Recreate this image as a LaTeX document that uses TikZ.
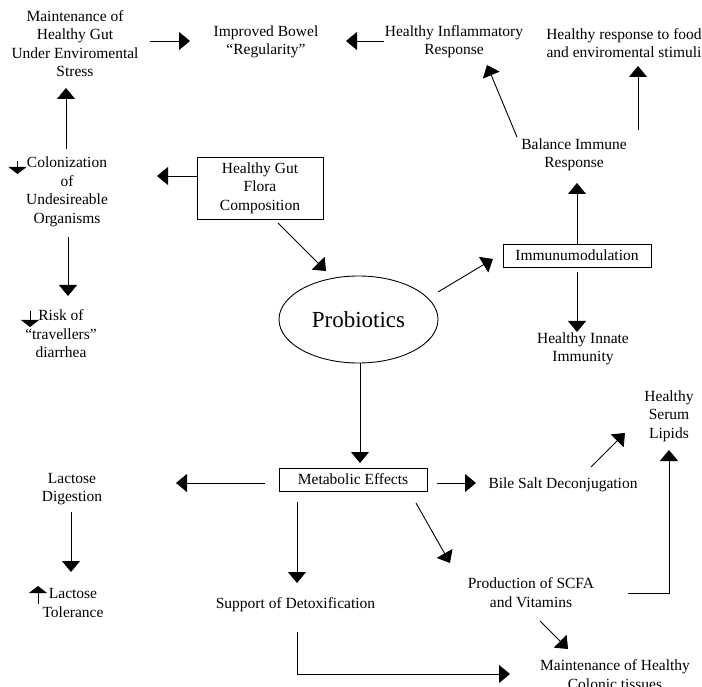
\documentclass[tikz,border=0pt]{standalone}
\usepackage{fontspec}
\setmainfont{Liberation Serif}
\usetikzlibrary{arrows.meta,shapes.geometric}
\begin{document}
\begin{tikzpicture}[x=1pt,y=-1pt,
  txt/.style={align=center,inner sep=0pt,font=\fontsize{15.5}{18.5}\selectfont},
  boxnode/.style={txt,draw,line width=0.9pt,inner sep=0pt},
  arr/.style={line width=0.9pt,-{Triangle[length=11pt,width=18pt]}},
  smallarr/.style={line width=0.8pt,-{Triangle[length=7pt,width=18pt]}}]
\clip (0,0) rectangle (702,687);
\fill[white] (0,0) rectangle (702,687);
% nodes
\node[txt] (maint) at (75,43.5) {Maintenance of\\Healthy Gut\\Under Enviromental\\Stress};
\node[txt] (bowel) at (266,42) {Improved Bowel\\“Regularity”};
\node[txt] (inflam) at (454,41.5) {Healthy Inflammatory\\Response};
\node[txt] (food) at (624,43) {Healthy response to food\\and enviromental stimuli};
\node[txt] (balance) at (574,155) {Balance Immune\\Response};
\node[boxnode,minimum width=148pt,minimum height=23pt] (immuno) at (577,255.5) {Immunumodulation};
\node[txt] (innate) at (583,349) {Healthy Innate\\Immunity};
\node[draw,ellipse,line width=0.9pt,inner sep=0pt,minimum width=159pt,minimum height=87pt,font=\fontsize{23}{27}\selectfont] (probio) at (358.5,319.5) {Probiotics};
\node[boxnode,minimum width=126pt,minimum height=62pt] (flora) at (260,188) {Healthy Gut\\Flora\\Composition};
\node[txt] (colon) at (67,192) {Colonization\\of\\Undesireable\\Organisms};
\node[txt] (risk) at (61,334) {Risk of\\“travellers”\\diarrhea};
\node[boxnode,minimum width=148pt,minimum height=23pt] (metab) at (353,479.5) {Metabolic Effects};
\node[txt] (lactdig) at (72,489) {Lactose\\Digestion};
\node[txt] (lacttol) at (73,603) {Lactose\\Tolerance};
\node[txt] (bile) at (563,485) {Bile Salt Deconjugation};
\node[txt] (lipids) at (669,416) {Healthy\\Serum\\Lipids};
\node[txt] (scfa) at (531,592.5) {Production of SCFA\\and Vitamins};
\node[txt] (detox) at (295.5,605) {Support of Detoxification};
\node[txt] (colonic) at (615,674.5) {Maintenance of Healthy\\Colonic tissues};
% connectors
\draw[arr] ([shift={(75,-2.5)}]maint.center) -- ([shift={(-76,-1)}]bowel.center);
\draw[arr] ([shift={(-70,-0.5)}]inflam.center) -- ([shift={(80,-1)}]bowel.center);
\draw[arr] ([shift={(-57,-18)}]balance.center) -- ([shift={(33,23.5)}]inflam.center);
\draw[arr] ([shift={(64,-25)}]balance.center) -- ([shift={(14,23)}]food.center);
\draw[arr] (immuno.north) -- ([shift={(3,28)}]balance.center);
\draw[arr] ([shift={(0,16.5)}]immuno.center) -- ([shift={(-6,-17)}]innate.center);
\draw[arr] ([shift={(79.5,-27.5)}]probio.center) -- ([shift={(-84,3.5)}]immuno.center);
\draw[arr] ([shift={(-63,-12)}]flora.center) -- ([shift={(90,-16)}]colon.center);
\draw[arr] ([shift={(18,35)}]flora.center) -- ([shift={(-32.5,-48.5)}]probio.center);
\draw[arr] ([shift={(-1,-43)}]colon.center) -- ([shift={(-9,44.5)}]maint.center);
\draw[arr] ([shift={(1,45)}]colon.center) -- ([shift={(7,-38)}]risk.center);
\draw[arr] ([shift={(1.5,43.5)}]probio.center) -- ([shift={(7,-16.5)}]metab.center);
\draw[arr] ([shift={(-88,3.5)}]metab.center) -- ([shift={(104,-6)}]lactdig.center);
\draw[arr] ([shift={(84,3.5)}]metab.center) -- ([shift={(-87,-2)}]bile.center);
\draw[arr] ([shift={(63,23.5)}]metab.center) -- ([shift={(-81,-29.5)}]scfa.center);
\draw[arr] ([shift={(-56,22.5)}]metab.center) -- ([shift={(1.5,-22)}]detox.center);
\draw[arr] ([shift={(-1,23)}]lactdig.center) -- ([shift={(-2,-31)}]lacttol.center);
\draw[arr] ([shift={(28,-18)}]bile.center) -- ([shift={(-44,17)}]lipids.center);
\draw[arr] ([shift={(97,0.5)}]scfa.center) -| ([shift={(0,34)}]lipids.center);
\draw[arr] ([shift={(9,28.5)}]scfa.center) -- ([shift={(-47,-25.5)}]colonic.center);
\draw[arr] ([shift={(1.5,27)}]detox.center) |- ([shift={(-105,-0.5)}]colonic.center);
% small marker arrows in front of texts
\draw[smallarr] ([shift={(-49.5,-31)}]colon.center) -- ([shift={(-49.5,-18)}]colon.center);
\draw[smallarr] ([shift={(-31,-23)}]risk.center) -- ([shift={(-31,-7)}]risk.center);
\draw[smallarr] ([shift={(-35,1)}]lacttol.center) -- ([shift={(-35,-17)}]lacttol.center);
\end{tikzpicture}
\end{document}
